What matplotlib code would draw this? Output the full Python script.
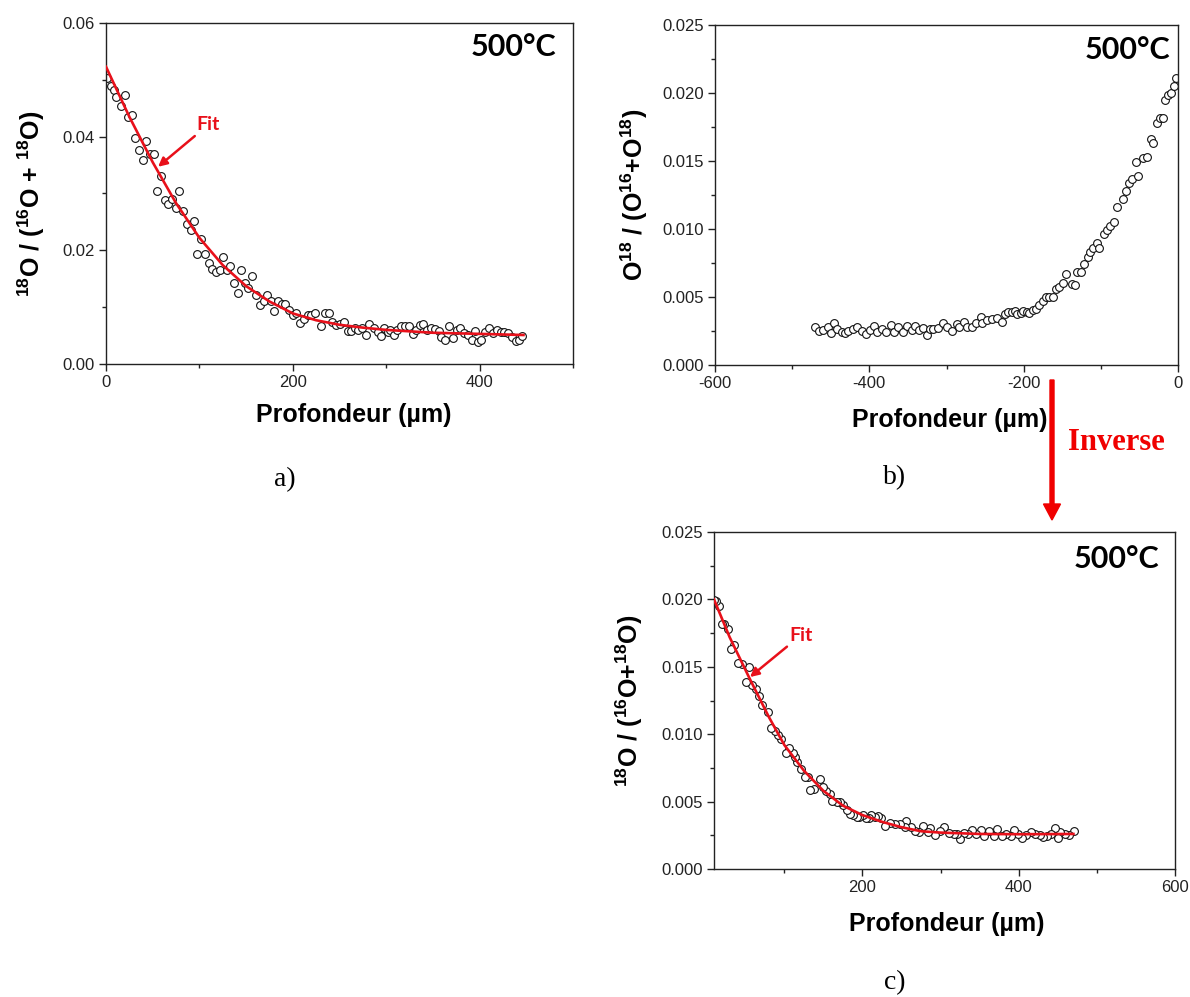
import matplotlib
matplotlib.use("Agg")
import matplotlib.pyplot as plt
from matplotlib.ticker import MultipleLocator, FormatStrFormatter
from matplotlib.patches import FancyArrow
from matplotlib.transforms import IdentityTransform

plt.rcParams['font.family'] = ['Liberation Sans', 'DejaVu Sans']
plt.rcParams['mathtext.fontset'] = 'custom'
plt.rcParams['mathtext.rm'] = 'Liberation Sans:bold'
plt.rcParams['mathtext.bf'] = 'Liberation Sans:bold'
plt.rcParams['mathtext.it'] = 'Liberation Sans:bold'

# ---------------- data: panel a ----------------
a_depth = [1.6, 4.9, 8.2, 11.1, 16.4, 20.5, 23.3, 27.4, 31.5, 35.6, 39.7, 43.0, 47.1, 51.2,
           54.9, 59.0, 63.0, 66.7, 70.4, 74.5, 78.6, 82.7, 86.8, 90.9, 94.2, 97.8, 101.9,
           106.0, 110.1, 113.8, 117.5, 121.6, 125.7, 129.4, 133.1, 136.7, 140.8, 144.9,
           148.6, 152.3, 156.4, 160.5, 164.6, 168.7, 172.8, 176.9, 180.1, 184.2, 188.3,
           192.0, 196.1, 199.8, 203.9, 207.6, 211.7, 215.8, 219.8, 223.9, 230.1, 234.2,
           238.3, 242.4, 246.5, 250.6, 254.6, 258.7, 262.0, 266.1, 270.2, 274.3, 278.4,
           282.1, 286.6, 290.7, 294.4, 297.6, 301.7, 304.6, 307.9, 312.0, 316.1, 320.2,
           324.2, 328.3, 332.4, 335.7, 339.8, 343.9, 348.0, 352.1, 356.2, 359.0, 363.1,
           367.2, 371.3, 375.4, 379.5, 383.6, 387.7, 391.8, 395.1, 397.9, 402.0, 406.1,
           410.2, 414.3, 418.4, 422.5, 426.6, 430.7, 434.8, 438.9, 442.2, 445.0]
a_ratio = [0.0504, 0.0489, 0.0482, 0.0470, 0.0454, 0.0473, 0.0435, 0.0438, 0.0398, 0.0376,
           0.0359, 0.0392, 0.0370, 0.0369, 0.0305, 0.0331, 0.0289, 0.0281, 0.0291, 0.0274,
           0.0305, 0.0270, 0.0246, 0.0236, 0.0252, 0.0193, 0.0220, 0.0193, 0.0177, 0.0168,
           0.0162, 0.0165, 0.0189, 0.0165, 0.0172, 0.0142, 0.0125, 0.0166, 0.0142, 0.0133,
           0.0154, 0.0121, 0.0104, 0.0111, 0.0121, 0.0110, 0.0094, 0.0110, 0.0105, 0.0105,
           0.0095, 0.0086, 0.0090, 0.0073, 0.0079, 0.0086, 0.0086, 0.0089, 0.0066, 0.0089,
           0.0089, 0.0074, 0.0069, 0.0071, 0.0074, 0.0058, 0.0058, 0.0064, 0.0060, 0.0063,
           0.0051, 0.0071, 0.0063, 0.0057, 0.0049, 0.0063, 0.0057, 0.0060, 0.0051, 0.0060,
           0.0066, 0.0066, 0.0067, 0.0053, 0.0060, 0.0069, 0.0070, 0.0060, 0.0063, 0.0061,
           0.0058, 0.0048, 0.0042, 0.0066, 0.0046, 0.0060, 0.0063, 0.0054, 0.0051, 0.0042,
           0.0058, 0.0039, 0.0042, 0.0057, 0.0063, 0.0054, 0.0060, 0.0057, 0.0057, 0.0054,
           0.0048, 0.0041, 0.0042, 0.0049]
a_fit_depth = [0, 25, 50, 75, 100, 125, 150, 175, 200, 225, 250, 275, 300, 350, 400, 447]
a_fit_ratio = [0.0523, 0.0435, 0.0355, 0.0283, 0.0222, 0.0174, 0.0137, 0.0110, 0.0089,
               0.0077, 0.0069, 0.0064, 0.0060, 0.0055, 0.0053, 0.0051]

# ---------------- data: panel b (raw, negative depth) ----------------
b_depth = [-470.4, -464.8, -459.6, -453.2, -450.1, -445.8, -441.5, -435.9, -431.6, -427.3,
           -420.8, -415.6, -409.9, -404.3, -399.2, -394.0, -390.5, -384.0, -378.4, -372.4,
           -368.1, -362.5, -356.0, -351.6, -345.1, -340.8, -335.3, -330.1, -324.9, -321.4,
           -317.1, -310.6, -304.9, -299.8, -293.3, -286.8, -283.4, -277.3, -273.0, -267.3,
           -261.8, -255.7, -254.4, -247.9, -241.4, -234.9, -228.5, -224.2, -219.9, -215.5,
           -211.2, -208.3, -203.9, -200.5, -196.1, -192.7, -188.3, -184.0, -179.8, -175.4,
           -171.1, -166.8, -161.6, -158.1, -153.8, -149.4, -145.2, -137.8, -133.5, -130.5,
           -126.1, -121.8, -116.2, -114.0, -110.6, -105.4, -102.4, -95.9, -92.4, -88.1,
           -82.9, -78.6, -71.7, -67.8, -63.5, -59.2, -54.4, -51.4, -45.8, -40.6, -35.4,
           -32.0, -27.6, -23.3, -19.9, -16.8, -12.5, -9.5, -5.2, -2.6]
b_ratio = [0.00282, 0.00252, 0.00257, 0.00277, 0.00233, 0.00306, 0.00262, 0.00245, 0.00238,
           0.00252, 0.00262, 0.00277, 0.00252, 0.00228, 0.00257, 0.00287, 0.00245, 0.00262,
           0.00245, 0.00294, 0.00245, 0.00282, 0.00245, 0.00287, 0.00257, 0.00287, 0.00257,
           0.00270, 0.00221, 0.00262, 0.00262, 0.00270, 0.00311, 0.00282, 0.00252, 0.00301,
           0.00277, 0.00319, 0.00277, 0.00282, 0.00311, 0.00355, 0.00311, 0.00331, 0.00336,
           0.00343, 0.00319, 0.00375, 0.00392, 0.00387, 0.00399, 0.00375, 0.00380, 0.00399,
           0.00387, 0.00385, 0.00404, 0.00410, 0.00441, 0.00473, 0.00500, 0.00500, 0.00502,
           0.00557, 0.00576, 0.00605, 0.00667, 0.00596, 0.00588, 0.00686, 0.00686, 0.00743,
           0.00796, 0.00833, 0.00858, 0.00895, 0.00858, 0.00961, 0.00993, 0.01024, 0.01049,
           0.01164, 0.01218, 0.01282, 0.01336, 0.01365, 0.01495, 0.01390, 0.01520, 0.01527,
           0.01659, 0.01635, 0.01782, 0.01814, 0.01814, 0.01949, 0.01985, 0.01998, 0.02051,
           0.02108]

# ---------------- data: panel c fit ----------------
c_fit_depth = [10, 30, 55, 80, 100, 125, 150, 175, 200, 225, 250, 275, 300, 350, 400, 470]
c_fit_ratio = [0.0200, 0.0172, 0.0142, 0.0113, 0.0092, 0.0073, 0.0058, 0.0047, 0.0040,
               0.0035, 0.0031, 0.0028, 0.0027, 0.0026, 0.00258, 0.0026]

temp_label = "500°C"
x_label = "Profondeur (µm)"

W, H = 1190, 997
fig = plt.figure(figsize=(W / 100, H / 100), dpi=100)
fig.patch.set_facecolor('white')


def frac(l, t, r, b):
    return [l / W, 1 - b / H, (r - l) / W, (b - t) / H]


ax_a = fig.add_axes(frac(106, 23, 573, 364))
ax_b = fig.add_axes(frac(715, 25, 1178, 365))
ax_c = fig.add_axes(frac(714, 532, 1175, 869))

mk = dict(linestyle='none', marker='o', markersize=5.6, markerfacecolor='white',
          markeredgecolor='#111111', markeredgewidth=0.8)


def style(ax, xmaj, xmin, ymaj, ymin, yfmt):
    for s in ax.spines.values():
        s.set_linewidth(1.0)
        s.set_color('#222222')
    ax.tick_params(which='both', direction='out', top=False, right=False,
                   width=1.0, colors='#222222', labelsize=12, labelcolor='#222222', pad=3)
    ax.tick_params(which='major', length=5)
    ax.tick_params(which='minor', length=3)
    ax.xaxis.set_major_locator(MultipleLocator(xmaj))
    ax.xaxis.set_minor_locator(MultipleLocator(xmin))
    ax.yaxis.set_major_locator(MultipleLocator(ymaj))
    ax.yaxis.set_minor_locator(MultipleLocator(ymin))
    ax.yaxis.set_major_formatter(FormatStrFormatter(yfmt))
    ax.xaxis.set_major_formatter(FormatStrFormatter('%d'))


# panel a
ax_a.plot(a_depth, a_ratio, **mk, zorder=2)
ax_a.plot(a_fit_depth, a_fit_ratio, color='#e8101a', lw=1.9, zorder=3)
ax_a.set_xlim(0, 500)
ax_a.set_ylim(0, 0.06)
style(ax_a, 200, 100, 0.02, 0.01, '%.2f')
ax_a.set_ylabel(r'$^{18}$O / ($^{16}$O + $^{18}$O)', fontsize=18, fontweight='bold')

# panel b
ax_b.plot(b_depth, b_ratio, **mk)
ax_b.set_xlim(-600, 0)
ax_b.set_ylim(0, 0.025)
style(ax_b, 200, 100, 0.005, 0.0025, '%.3f')
ax_b.set_ylabel(r'O$^{18}$ / (O$^{16}$+O$^{18}$)', fontsize=18, fontweight='bold')

# panel c (inverse of b)
c_depth = [-v for v in b_depth]
ax_c.plot(c_depth, b_ratio, **mk, zorder=2)
ax_c.plot(c_fit_depth, c_fit_ratio, color='#e8101a', lw=1.9, zorder=3)
ax_c.set_xlim(10, 600)
ax_c.set_ylim(0, 0.025)
style(ax_c, 200, 100, 0.005, 0.0025, '%.3f')
ax_c.set_ylabel(r'$^{18}$O / ($^{16}$O+$^{18}$O)', fontsize=18, fontweight='bold')

# y label positions (centre of label, pixels left of spine)
for ax, off, wpx, cy in [(ax_a, 75, 467, 0.47), (ax_b, 81, 463, 0.5), (ax_c, 85, 461, 0.5)]:
    ax.yaxis.label.set_va('center')
    ax.yaxis.set_label_coords(-off / wpx, cy)

# x labels
for ax, cx, off, wpx, hpx in [(ax_a, 354, 51, 467, 341), (ax_b, 950, 55, 463, 340),
                              (ax_c, 947, 55, 461, 337)]:
    ax.set_xlabel(x_label, fontsize=18, fontweight='bold')
    x0 = ax.get_position().x0 * W
    ax.xaxis.set_label_coords((cx - x0) / wpx, -off / hpx)
    ax.xaxis.label.set_va('center')

# temperature labels
for ax, xf, yf in [(ax_a, 0.965, 0.930), (ax_b, 0.983, 0.926), (ax_c, 0.965, 0.920)]:
    ax.text(xf, yf, temp_label, transform=ax.transAxes, ha='right', va='center',
            fontsize=22, fontweight='bold', family=['Lato', 'DejaVu Sans'], color='black')

# Fit annotations
ax_a.annotate('Fit', xy=(55.7, 0.0347), xytext=(97, 0.0406), textcoords='data',
              fontsize=14, fontweight='bold', family=['Lato', 'DejaVu Sans'], color='#e8101a',
              ha='left', va='bottom',
              arrowprops=dict(arrowstyle='-|>', color='#e8101a', lw=1.8,
                              mutation_scale=13, shrinkA=0, shrinkB=0))
ax_c.annotate('Fit', xy=(56, 0.01424), xytext=(106, 0.0167), textcoords='data',
              fontsize=14, fontweight='bold', family=['Lato', 'DejaVu Sans'], color='#e8101a',
              ha='left', va='bottom',
              arrowprops=dict(arrowstyle='-|>', color='#e8101a', lw=1.8,
                              mutation_scale=13, shrinkA=0, shrinkB=0))

# big "Inverse" arrow (figure pixels)
arrow = FancyArrow(1052, H - 380, 0, -(520 - 380), width=4, head_width=17,
                   head_length=16, length_includes_head=True, color='#f00000',
                   transform=IdentityTransform())
fig.add_artist(arrow)
fig.text(1068 / W, 1 - 442 / H, 'Inverse', color='#f00000', fontsize=22, fontweight='bold',
         family=['Liberation Serif', 'DejaVu Serif'], ha='left', va='center')

# panel letters
for lab, x, y in [('a)', 285, 480), ('b)', 895, 478), ('c)', 895, 983)]:
    fig.text(x / W, 1 - y / H, lab, fontsize=20, family=['Liberation Serif', 'DejaVu Serif'],
             ha='center', va='center', color='black')

fig.savefig('out.png', dpi=100, facecolor='white')
